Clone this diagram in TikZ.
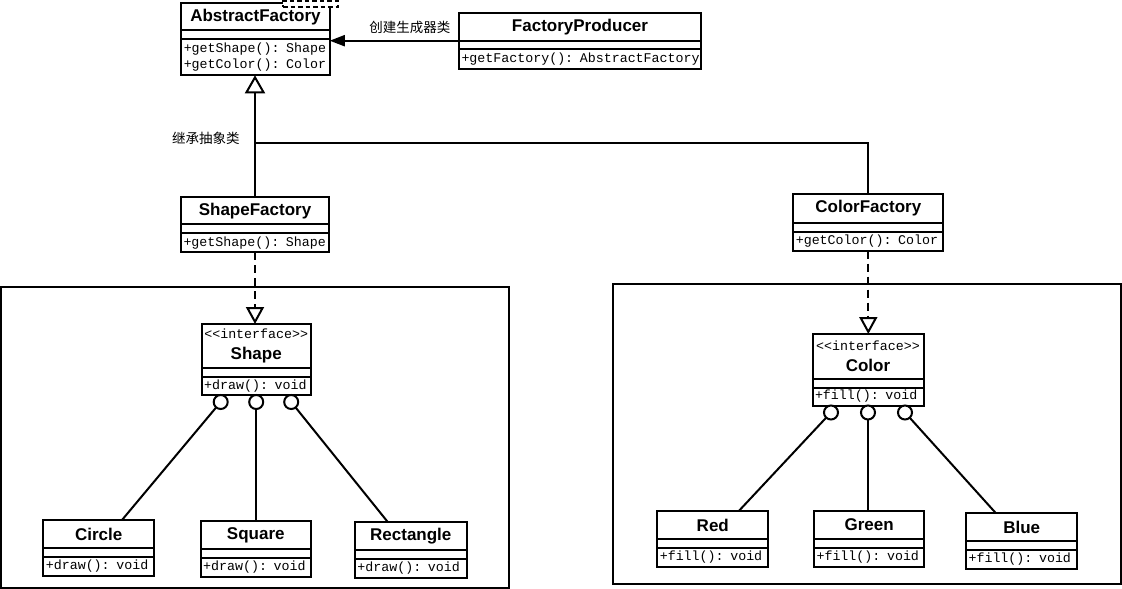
\documentclass[tikz,border=0pt]{standalone}
\usepackage{fontspec}
\setmainfont{Liberation Sans}
\setmonofont{Liberation Mono}
\newfontfamily\cjkfont{Noto Sans CJK SC}
\usetikzlibrary{positioning,arrows.meta}

\begin{document}
\begin{tikzpicture}[x=1pt, y=1pt, line width=2pt,
  every node/.style={outer sep=0pt},
  ctitle/.style={draw, fill=white, minimum width=#1, minimum height=28pt, inner sep=0pt,
    font=\fontsize{17}{19}\selectfont\bfseries},
  ititle/.style={ctitle=#1, minimum height=45pt, align=center},
  cgap/.style={draw, fill=white, minimum width=#1, minimum height=8.5pt, inner sep=0pt},
  cops/.style={draw, fill=white, text width=#1, minimum height=19.5pt, inner xsep=2.5pt, inner ysep=0pt,
    align=left, font=\fontsize{13.3}{16}\selectfont\ttfamily},
  lolli/.style={circle, draw, fill=white, minimum size=14pt, inner sep=0pt},
  lbl/.style={font=\fontsize{13.5}{15}\selectfont\cjkfont},
  realize/.style={dash pattern=on 8pt off 5pt, -{Triangle[open, length=17pt, width=18pt]}},
  inherit/.style={-{Triangle[open, length=18pt, width=20pt]}},
  create/.style={-{Triangle[length=15pt, width=11pt]}}
]
\useasboundingbox (0,0) rectangle (1122,-589);

% Package frames
\draw (1.2,-287) rectangle (508.5,-587.8);
\draw (613,-284) rectangle (1120.5,-584);

% Abstract factory
\node[ctitle=148.5, minimum height=27pt, anchor=north] (absfac) at (255.5,-3.3) {AbstractFactory};
\node[cgap=148.5, minimum height=9pt, below=0pt of absfac] (absfac-gap) {};
\node[cops=143.5pt, minimum height=36pt, below=0pt of absfac-gap] (absfac-ops) {+getShape(): Shape\\+getColor(): Color};
\node[draw, dash pattern=on 4.5pt off 3pt, fill=white, minimum width=55pt, minimum height=6pt,
  inner sep=0pt, anchor=north east] (absfac-param) at ([xshift=8.3pt, yshift=2.3pt]absfac.north east) {};

% Producer
\node[ctitle=242, anchor=north] (producer) at (580,-12.7) {FactoryProducer};
\node[cgap=242, below=0pt of producer] (producer-gap) {};
\node[cops=237pt, minimum height=20pt, below=0pt of producer-gap] (producer-ops) {\mbox{+getFactory(): AbstractFactory}};

% Concrete factories
\node[ctitle=148, minimum height=27pt, anchor=north] (shapefac) at (255,-197.3) {ShapeFactory};
\node[cgap=148, minimum height=9pt, below=0pt of shapefac] (shapefac-gap) {};
\node[cops=143pt, minimum height=19pt, below=0pt of shapefac-gap] (shapefac-ops) {+getShape(): Shape};

\node[ctitle=150, minimum height=28.4pt, anchor=north] (colorfac) at (868.3,-194.3) {ColorFactory};
\node[cgap=150, minimum height=9pt, below=0pt of colorfac] (colorfac-gap) {};
\node[cops=145pt, minimum height=19pt, below=0pt of colorfac-gap] (colorfac-ops) {+getColor(): Color};

% Interfaces
\node[ititle=109, minimum height=44pt, anchor=north] (shapeif) at (256.2,-324)
  {{\ttfamily\mdseries\fontsize{13.3}{15}\selectfont <{}<interface>{}>}\\[2pt]Shape};
\node[cgap=109, minimum height=9.3pt, below=0pt of shapeif] (shapeif-gap) {};
\node[cops=104pt, minimum height=17.7pt, below=0pt of shapeif-gap] (shapeif-ops) {+draw(): void};

\node[ititle=111, anchor=north] (colorif) at (868,-334)
  {{\ttfamily\mdseries\fontsize{13.3}{15}\selectfont <{}<interface>{}>}\\[2pt]Color};
\node[cgap=111, below=0pt of colorif] (colorif-gap) {};
\node[cops=106pt, minimum height=18pt, below=0pt of colorif-gap] (colorif-ops) {+fill(): void};

% Lollipops
\node[lolli, below=0pt of shapeif-ops.south, xshift=-35.5pt] (shapeif-l1) {};
\node[lolli, below=0pt of shapeif-ops.south] (shapeif-l2) {};
\node[lolli, below=0pt of shapeif-ops.south, xshift=35pt] (shapeif-l3) {};

\node[lolli, below=0pt of colorif-ops.south, xshift=-37pt] (colorif-l1) {};
\node[lolli, below=0pt of colorif-ops.south] (colorif-l2) {};
\node[lolli, below=0pt of colorif-ops.south, xshift=37pt] (colorif-l3) {};

% Shapes
\node[ctitle=110.7, anchor=north] (circ) at (98.7,-520) {Circle};
\node[cgap=110.7, below=0pt of circ] (circ-gap) {};
\node[cops=105.7pt, below=0pt of circ-gap] (circ-ops) {+draw(): void};

\node[ctitle=110.3, anchor=north] (sq) at (255.8,-521) {Square};
\node[cgap=110.3, below=0pt of sq] (sq-gap) {};
\node[cops=105.3pt, below=0pt of sq-gap] (sq-ops) {+draw(): void};

\node[ctitle=111.7, anchor=north] (rectg) at (410.8,-522.3) {Rectangle};
\node[cgap=111.7, below=0pt of rectg] (rectg-gap) {};
\node[cops=106.7pt, below=0pt of rectg-gap] (rectg-ops) {+draw(): void};

% Colors
\node[ctitle=111, anchor=north] (redcls) at (712.8,-511) {Red};
\node[cgap=111, below=0pt of redcls] (redcls-gap) {};
\node[cops=106pt, below=0pt of redcls-gap] (redcls-ops) {+fill(): void};

\node[ctitle=110.3, anchor=north] (greencls) at (869.2,-511) {Green};
\node[cgap=110.3, below=0pt of greencls] (greencls-gap) {};
\node[cops=105.3pt, below=0pt of greencls-gap] (greencls-ops) {+fill(): void};

\node[ctitle=111.3, anchor=north] (bluecls) at (1021.7,-513.3) {Blue};
\node[cgap=111.3, below=0pt of bluecls] (bluecls-gap) {};
\node[cops=106.3pt, below=0pt of bluecls-gap] (bluecls-ops) {+fill(): void};

% Arrows
\draw[create] (producer.south west) -- (producer.south west -| absfac.east)
  node[lbl, pos=0.38, above=4pt] (createlbl) {创建生成器类};
\draw[inherit] (shapefac.north) -- (shapefac.north |- absfac-ops.south);
\coordinate (split) at ([yshift=54.6pt]shapefac.north);
\draw (colorfac.north) |- (split);
\node[lbl, left=12pt of split, yshift=4.5pt] (inheritlbl) {继承抽象类};

\draw[realize] (shapefac-ops.south) -- (shapefac-ops.south |- shapeif.north);
\draw[realize] (colorfac-ops.south) -- (colorfac-ops.south |- colorif.north);

% Implementations
\draw (shapeif-l1) -- ([xshift=23.3pt]circ.north);
\draw (shapeif-l2) -- (shapeif-l2 |- sq.north);
\draw (shapeif-l3) -- ([xshift=-22.8pt]rectg.north);
\draw (colorif-l1) -- ([xshift=26pt]redcls.north);
\draw (colorif-l2) -- (colorif-l2 |- greencls.north);
\draw (colorif-l3) -- ([xshift=-25.7pt]bluecls.north);

\end{tikzpicture}
\end{document}
